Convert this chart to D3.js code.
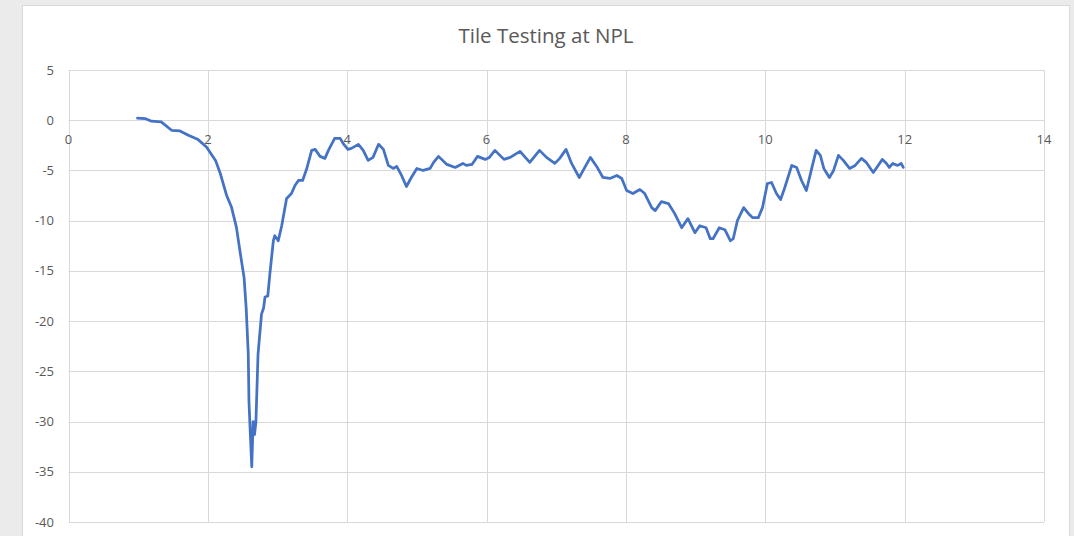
<!DOCTYPE html>
<html>
<head>
<meta charset="utf-8">
<script src="https://cdn.jsdelivr.net/npm/d3@7"></script>
<style>
  body { margin: 0; background: #ebebeb; }
  svg { display: block; }
  .grid line { stroke: #d9d9d9; stroke-width: 1; }
  .tick-label { font-family: "Open Sans", sans-serif; font-size: 13px; fill: #595959; }
</style>
</head>
<body>
<div id="chart"></div>
<script>
width = 1074;
height = 536;

const title = "Tile Testing at NPL";
const xTicks = [0, 2, 4, 6, 8, 10, 12, 14];
const yTicks = [5, 0, -5, -10, -15, -20, -25, -30, -35, -40];

// distance, reading
const points = [
  [0.99, 0.2], [1.1, 0.17], [1.19, -0.1], [1.33, -0.17], [1.48, -1.0], [1.6, -1.07],
  [1.72, -1.5], [1.86, -1.93], [1.98, -2.67], [2.11, -4.0], [2.18, -5.33], [2.27, -7.5],
  [2.34, -8.67], [2.41, -10.67], [2.46, -13], [2.52, -15.67], [2.55, -18.7], [2.58, -23.3],
  [2.59, -28], [2.61, -31.3], [2.63, -34.5], [2.65, -30], [2.67, -31.3], [2.69, -30],
  [2.72, -23.3], [2.77, -19.3], [2.8, -18.7], [2.82, -17.6], [2.86, -17.5], [2.89, -15.3],
  [2.94, -12], [2.96, -11.5], [3.01, -12], [3.06, -10.5], [3.13, -7.8], [3.2, -7.3],
  [3.25, -6.5], [3.3, -6], [3.36, -6], [3.42, -4.8], [3.49, -3.0], [3.54, -2.9],
  [3.61, -3.6], [3.68, -3.8], [3.73, -3.0], [3.82, -1.8], [3.9, -1.8], [3.94, -2.3],
  [4.01, -2.9], [4.06, -2.8], [4.16, -2.4], [4.23, -3.0], [4.3, -4.0], [4.37, -3.7],
  [4.45, -2.4], [4.52, -2.9], [4.59, -4.5], [4.66, -4.8], [4.71, -4.6], [4.78, -5.5],
  [4.85, -6.6], [4.92, -5.7], [5.0, -4.8], [5.09, -5.0], [5.19, -4.8], [5.24, -4.2],
  [5.31, -3.6], [5.43, -4.4], [5.55, -4.7], [5.66, -4.3], [5.71, -4.5], [5.79, -4.4],
  [5.87, -3.6], [5.98, -3.9], [6.04, -3.7], [6.12, -3.0], [6.25, -3.9], [6.34, -3.7],
  [6.48, -3.1], [6.62, -4.2], [6.76, -3.0], [6.86, -3.7], [6.98, -4.3], [7.05, -3.8],
  [7.14, -2.9], [7.22, -4.3], [7.33, -5.7], [7.41, -4.7], [7.49, -3.7], [7.58, -4.6],
  [7.67, -5.7], [7.77, -5.8], [7.87, -5.5], [7.94, -5.8], [8.01, -7.0], [8.1, -7.3],
  [8.2, -6.9], [8.27, -7.3], [8.37, -8.7], [8.42, -9.0], [8.51, -8.1], [8.61, -8.3],
  [8.7, -9.3], [8.8, -10.7], [8.89, -9.8], [8.99, -11.2], [9.06, -10.5], [9.15, -10.7],
  [9.21, -11.8], [9.25, -11.8], [9.34, -10.7], [9.42, -10.9], [9.5, -12.0], [9.54, -11.8],
  [9.6, -10.0], [9.69, -8.7], [9.76, -9.3], [9.82, -9.7], [9.9, -9.7], [9.96, -8.7],
  [10.03, -6.3], [10.09, -6.2], [10.16, -7.3], [10.22, -7.9], [10.28, -6.7], [10.38, -4.5],
  [10.45, -4.7], [10.52, -6.0], [10.59, -7.0], [10.67, -4.7], [10.73, -3.0], [10.79, -3.5],
  [10.84, -4.8], [10.92, -5.7], [10.98, -5.0], [11.05, -3.5], [11.12, -4.0], [11.21, -4.8],
  [11.29, -4.5], [11.38, -3.8], [11.45, -4.2], [11.55, -5.2], [11.62, -4.5], [11.68, -3.9],
  [11.74, -4.3], [11.78, -4.7], [11.83, -4.3], [11.9, -4.5], [11.95, -4.3], [11.98, -4.7]
];

const svg = d3.select("#chart")
              .append("svg")
              .attr("width", width)
              .attr("height", height);

// chart frame
svg.append("rect")
    .attr("x", 22.5).attr("y", 5.5)
    .attr("width", 1047).attr("height", 540)
    .attr("fill", "#ffffff")
    .attr("stroke", "#d9d9d9");

var x = d3.scaleLinear().domain([0, 14]).range([68.5, 1044]);
var y = d3.scaleLinear().domain([5, -40]).range([70, 522]);

svg.append("text")
    .attr("x", 546).attr("y", 43)
    .attr("text-anchor", "middle")
    .style("font-family", "'Open Sans', sans-serif")
    .style("font-size", "20.5px")
    .style("fill", "#595959")
    .text(title);

// grid
var grid = svg.append("g").attr("class", "grid");
grid.selectAll("line.h")
    .data(yTicks)
    .enter().append("line")
      .attr("class", "h")
      .attr("x1", x(0)).attr("x2", x(14))
      .attr("y1", d => Math.round(y(d)) + 0.5)
      .attr("y2", d => Math.round(y(d)) + 0.5);
grid.selectAll("line.v")
    .data(xTicks)
    .enter().append("line")
      .attr("class", "v")
      .attr("x1", d => Math.round(x(d)) + 0.5)
      .attr("x2", d => Math.round(x(d)) + 0.5)
      .attr("y1", y(5)).attr("y2", y(-40));

// y labels
svg.append("g")
  .selectAll("text")
  .data(yTicks)
  .enter().append("text")
    .attr("class", "tick-label")
    .attr("x", 54)
    .attr("y", d => y(d) + 4.5)
    .attr("text-anchor", "end")
    .text(d => d);

// x labels sit under the zero line
svg.append("g")
  .selectAll("text")
  .data(xTicks)
  .enter().append("text")
    .attr("class", "tick-label")
    .attr("x", d => x(d))
    .attr("y", y(0) + 24)
    .attr("text-anchor", "middle")
    .text(d => d);

var line = d3.line()
    .x(d => x(d[0]))
    .y(d => y(d[1]));

svg.append("path")
    .datum(points)
    .attr("d", line)
    .attr("fill", "none")
    .attr("stroke", "#4472c4")
    .attr("stroke-width", 2.75)
    .attr("stroke-linejoin", "round")
    .attr("stroke-linecap", "round");
</script>
</body>
</html>
